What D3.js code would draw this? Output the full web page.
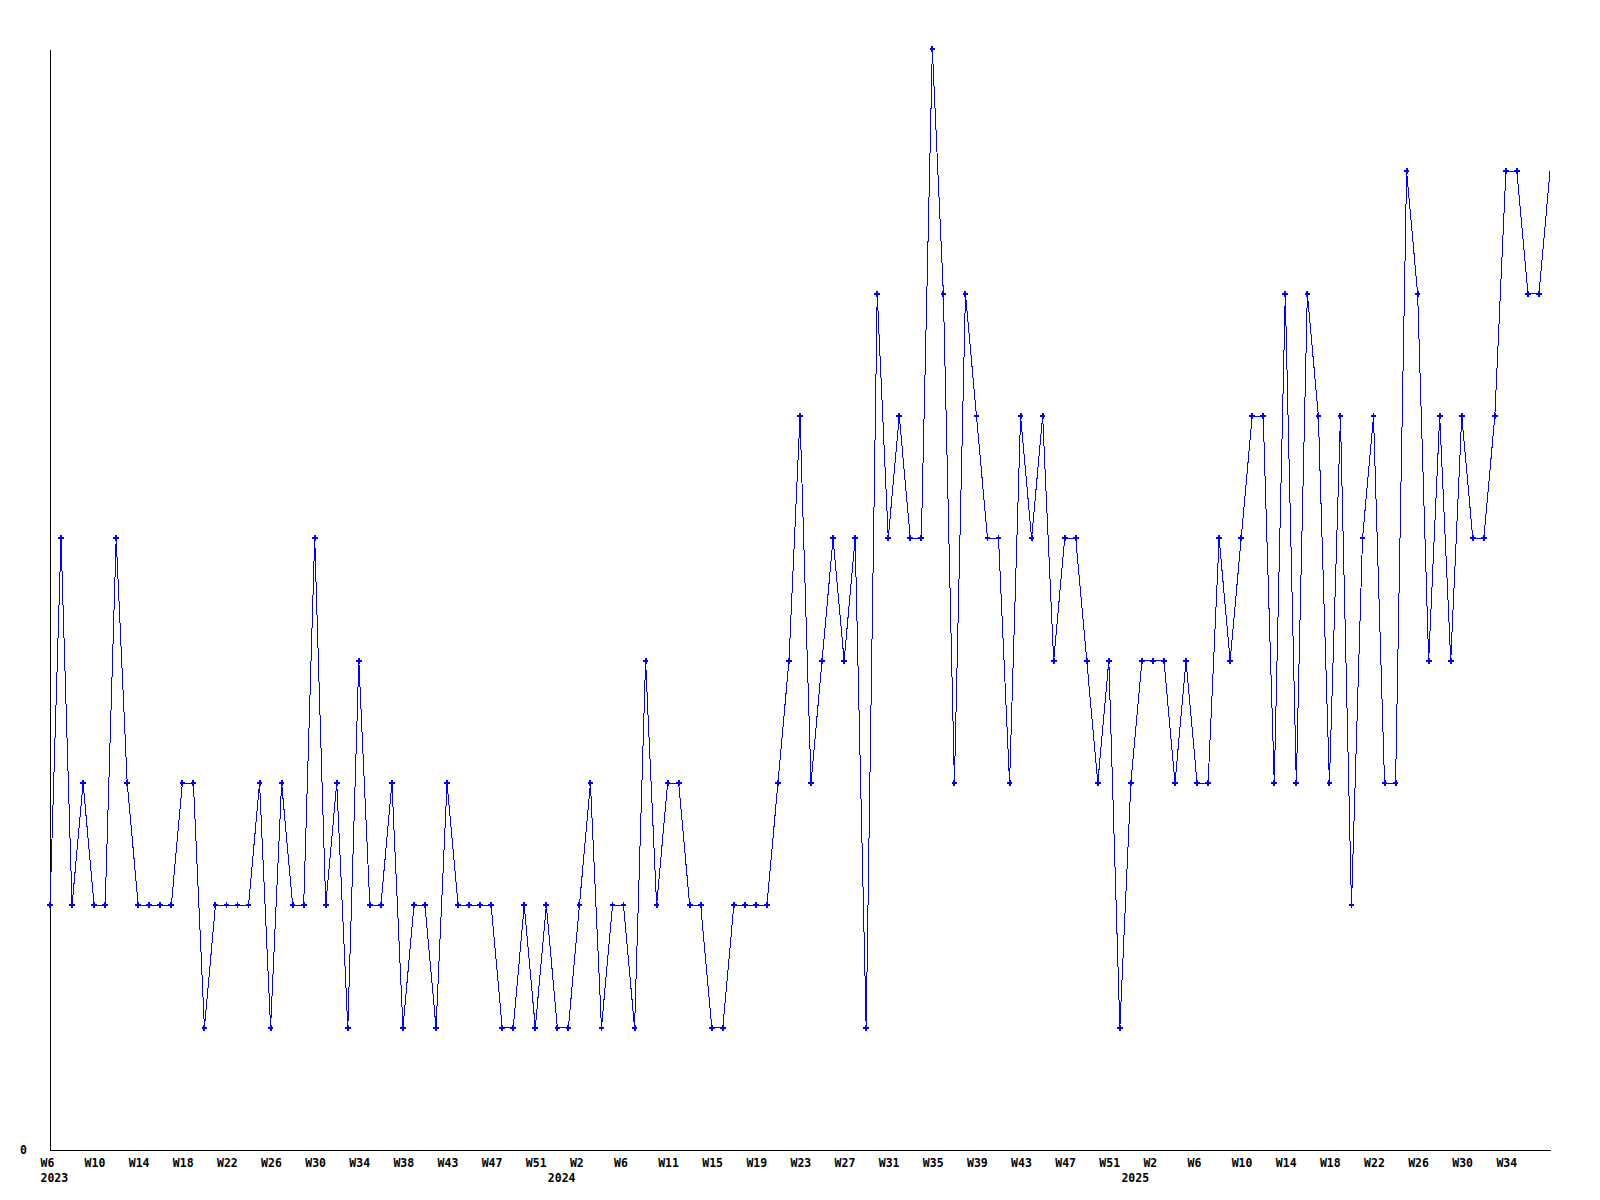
<!DOCTYPE html>
<html>
<head>
<meta charset="utf-8">
<script src="https://cdn.jsdelivr.net/npm/d3@7"></script>
<style>
  html, body { margin: 0; padding: 0; background: #ffffff; }
  svg { display: block; }
  .axis text { font-family: "DejaVu Sans Mono", monospace; font-weight: bold; font-size: 11.5px; fill: #000; }
  .axis path { stroke: #000; stroke-width: 1; shape-rendering: crispEdges; }
</style>
</head>
<body>
<svg id="chart" width="1600" height="1200"></svg>
<script>
// Weekly values, 2023 W6 .. 2025 (one value per week)
const values = [
  2,5,2,3,2,2,5,3,2,2, 2,2,3,3,1,2,2,2,2,3,
  1,3,2,2,5,2,3,1,4,2, 2,3,1,2,2,1,3,2,2,2,
  2,1,1,2,1,2,1,1,2,3, 1,2,2,1,4,2,3,3,2,2,
  1,1,2,2,2,2,3,4,6,3, 4,5,4,5,1,7,5,6,5,5,
  9,7,3,7,6,5,5,3,6,5, 6,4,5,5,4,3,4,1,3,4,
  4,4,3,4,3,3,5,4,5,6, 6,3,7,3,7,6,3,6,2,5,
  6,3,3,8,7,4,6,4,6,5, 5,6,8,8,7,7,8
];
// x tick labels, one every 4th week
const tickLabels = [
  "W6","W10","W14","W18","W22","W26","W30","W34","W38","W43","W47","W51",
  "W2","W6","W11","W15","W19","W23","W27","W31","W35","W39","W43","W47","W51",
  "W2","W6","W10","W14","W18","W22","W26","W30","W34"
];
const tickEvery = 4;
// year labels and the week index they sit under
const yearLabels = ["2023","2024","2025"];
const yearIndex = [0, 46, 98];
const yTickValues = [0];

const svg = d3.select("#chart");
svg.append("rect").attr("width",1600).attr("height",1200).attr("fill","#fff");

const x = d3.scaleLinear().domain([0, values.length - 1]).range([50, 1550]);
const y = d3.scaleLinear().domain([0, d3.max(values)]).range([1150, 49]);

// Y axis
const gy = svg.append("g").attr("class","axis").attr("transform","translate(50,0)")
  .call(d3.axisLeft(y).tickValues(yTickValues).tickFormat(d3.format("d")).tickSize(0).tickSizeOuter(0).tickPadding(23));
gy.selectAll("text").attr("dy", "0.33em");

// X axis with week labels
const tickIdx = d3.range(0, values.length, tickEvery).slice(0, tickLabels.length);
const gx = svg.append("g").attr("class","axis").attr("transform","translate(0,1150)")
  .call(d3.axisBottom(x).tickValues(tickIdx).tickFormat((d,i) => tickLabels[i]).tickSize(0).tickSizeOuter(0));
gx.selectAll("text").attr("text-anchor","start").attr("x",-10).attr("y",16.5).attr("dy",null);

// Year labels (second row)
const gyear = svg.append("g").attr("class","axis").attr("transform","translate(0,1150)")
  .call(d3.axisBottom(x).tickValues(yearIndex).tickFormat((d,i) => yearLabels[i]).tickSize(0).tickSizeOuter(0));
gyear.select(".domain").remove();
gyear.selectAll("text").attr("text-anchor","start").attr("x",-10).attr("y",31.5).attr("dy",null);

// Line
const line = d3.line().x((d,i) => x(i)).y(d => y(d));
svg.append("path").datum(values)
  .attr("d", line)
  .attr("fill","none")
  .attr("stroke","#0000ff")
  .attr("stroke-width",1)
  .attr("shape-rendering","crispEdges");

// Markers (last point drawn without marker, as in the reference)
const sym = d3.symbol().type(d3.symbolCross).size(18);
svg.append("g").selectAll("path")
  .data(values.slice(0, values.length - 1))
  .join("path")
  .attr("transform", (d,i) => `translate(${x(i)},${y(d)})`)
  .attr("d", sym)
  .attr("fill","#0000ff")
  .attr("shape-rendering","crispEdges");
</script>
</body>
</html>
